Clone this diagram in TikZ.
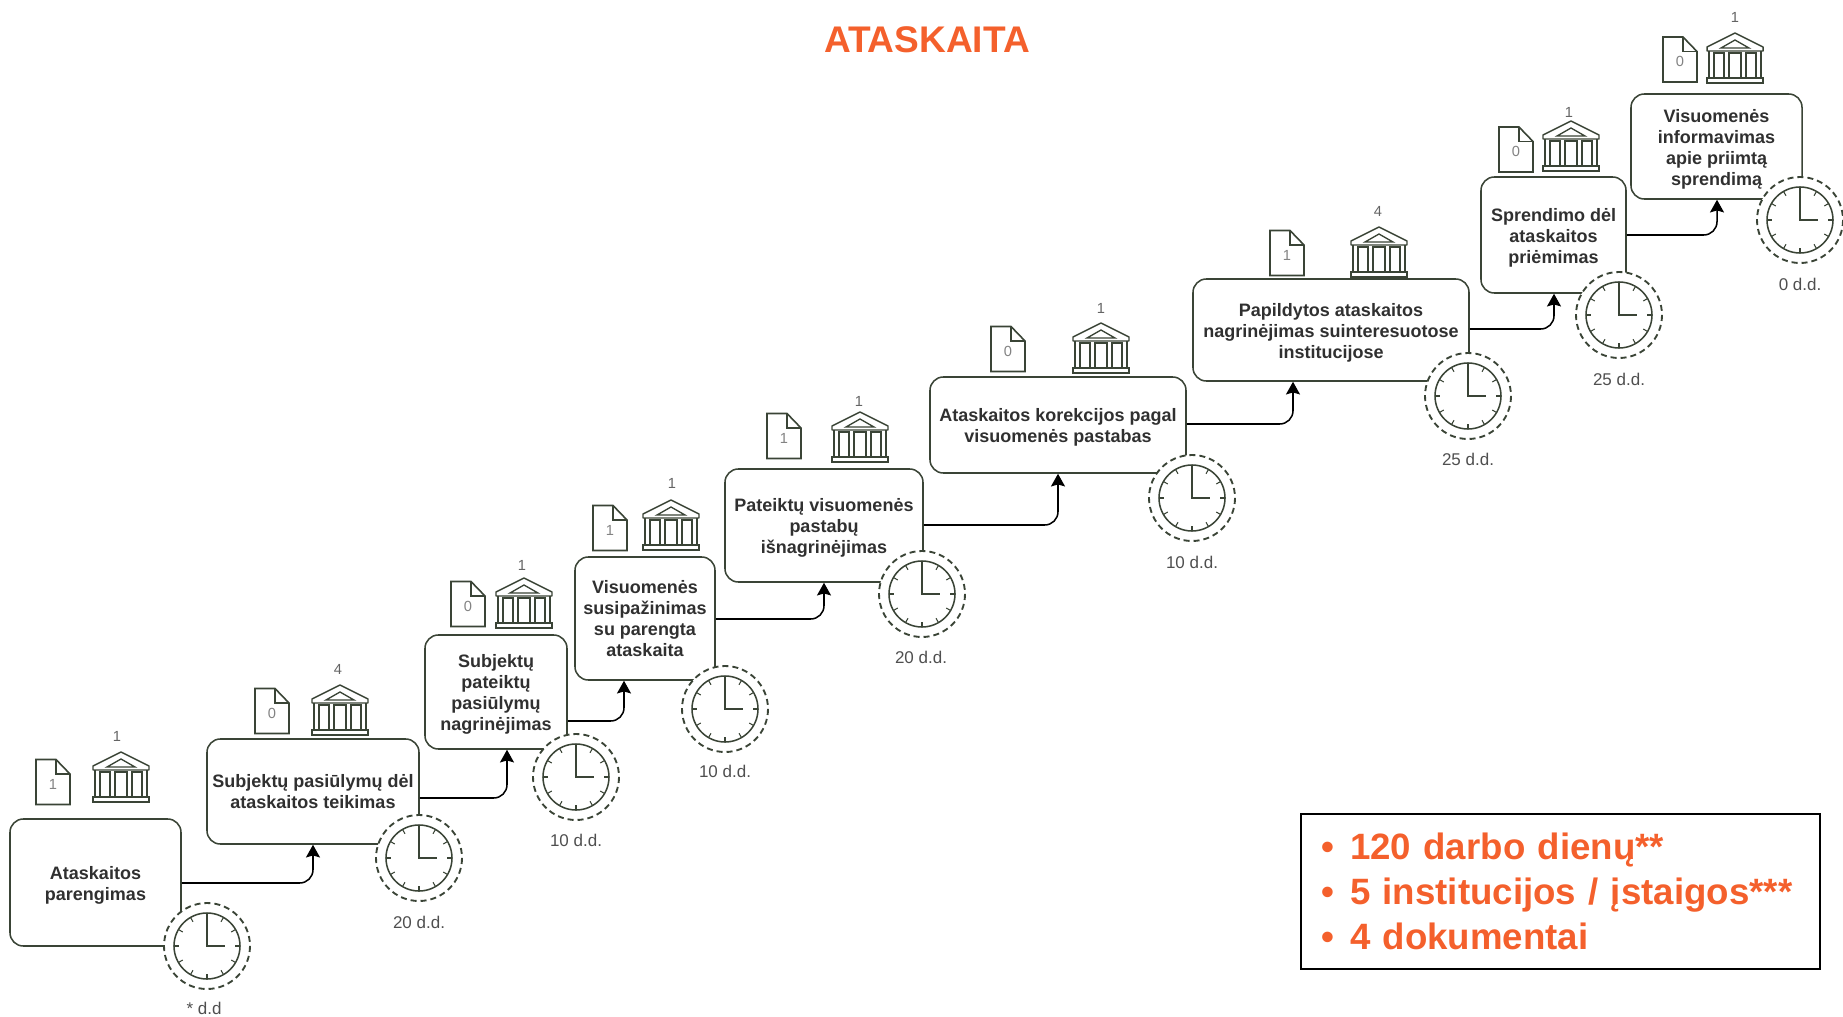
\documentclass[tikz,border=0pt]{standalone}
\usepackage{fontspec}
\setmainfont{Liberation Sans}
\usetikzlibrary{arrows.meta}
\definecolor{trait}{HTML}{3A4436}
\definecolor{encre}{HTML}{303030}
\definecolor{orange}{HTML}{F4602C}
\newcommand{\tiup}{\rule{0pt}{14pt}}

\begin{document}
\begin{tikzpicture}[x=0.75pt, y=-0.75pt]
\tikzset{tibox/.style 2 args={draw=trait, line width=1.15pt, rounded corners=10pt, inner sep=0pt, align=center, text=encre, font=\fontsize{13.5}{15.75}\selectfont\bfseries, minimum width=#1*0.75pt, minimum height=#2*0.75pt}}
\tikzset{tilabel/.style={inner sep=0pt, text=encre!85, font=\fontsize{12.75}{15}\selectfont}}
\tikzset{tinum/.style={inner sep=0pt, text=encre!75, font=\fontsize{11}{13}\selectfont}}
\tikzset{flow/.style={draw=black, line width=1.15pt, rounded corners=10pt, -{Stealth[length=9.5pt, width=10.5pt, inset=1.5pt]}}}
\tikzset{tidoc/.pic={
  \draw[trait, line width=1.2pt, fill=white] (-17,-22.5) -- (3,-22.5) -- (17,-8) -- (17,22.5) -- (-17,22.5) -- cycle;
  \draw[trait, line width=1.2pt] (3,-22.5) -- (3,-8) -- (17,-8);
  \node[tinum, text=encre!60] (-num) at (0,2) {#1};
}}
\tikzset{tiinst/.pic={
  \draw[trait, line width=1.1pt, line join=round] (-28,-7) -- (-28,-11) -- (0,-25) -- (28,-11) -- (28,-7) -- cycle;
  \draw[trait, line width=1pt] (-14,-10) -- (0,-18) -- (14,-10) -- cycle;
  \draw[trait, line width=1.1pt] (-26,-7) -- (-26,20);
  \draw[trait, line width=1.1pt] (26,-7) -- (26,20);
  \draw[trait, line width=1.1pt] (-28,20) rectangle (28,25);
  \draw[trait, line width=0.9pt] (-21,-5) rectangle (-11,20);
  \draw[trait, line width=0.9pt] (-6,-5) rectangle (6,20);
  \draw[trait, line width=0.9pt] (11,-5) rectangle (21,20);
}}
\tikzset{ticlock/.pic={
  \draw[trait, line width=1.4pt, dash pattern=on 4.5pt off 3pt, fill=white] (0,0) circle (43);
  \draw[trait, line width=1.15pt] (0,0) circle (33);
  \foreach \a in {0,30,...,330} \draw[trait, line width=0.8pt] (\a:33) -- (\a:28);
  \draw[trait, line width=1.25pt] (0,-29) -- (0,0) -- (18,0);
}}
\useasboundingbox (0,0) rectangle (1843,1017);
\node[inner sep=0pt, text=orange, font=\fontsize{27.8}{30}\selectfont\bfseries] (title) at (927,40) {ATASKAITA};

\node[tibox={171}{127}] (B1) at (95.5,882.5) {\tiup Ataskaitos\\parengimas};
\node[tibox={212}{105}] (B2) at (313,791.5) {Subjektų pasiūlymų dėl\\ataskaitos teikimas};
\node[tibox={142}{114}] (B3) at (496,692) {\tiup Subjektų\\pateiktų\\pasiūlymų\\nagrinėjimas};
\node[tibox={140}{123}] (B4) at (645,618.5) {Visuomenės\\susipažinimas\\su parengta\\ataskaita};
\node[tibox={198}{113}] (B5) at (824,525.5) {\tiup Pateiktų visuomenės\\pastabų\\išnagrinėjimas};
\node[tibox={256}{96}] (B6) at (1058,425) {\tiup Ataskaitos korekcijos pagal\\visuomenės pastabas};
\node[tibox={276}{102}] (B7) at (1331,330) {\tiup Papildytos ataskaitos\\nagrinėjimas suinteresuotose\\institucijose};
\node[tibox={145}{116}] (B8) at (1553.5,235) {\tiup Sprendimo dėl\\ataskaitos\\priėmimas};
\node[tibox={171}{105}] (B9) at (1716.5,146.5) {\tiup Visuomenės\\informavimas\\apie priimtą\\sprendimą};

\draw[flow] (B1.east |- 0,883) -| (B2.south);
\draw[flow] (B2.east |- 0,798) -| (B3.south -| 507,0);
\draw[flow] (B3.east |- 0,721) -| (B4.south -| 624,0);
\draw[flow] (B4.east |- 0,619) -| (B5.south -| 824,0);
\draw[flow] (B5.east |- 0,525) -| (B6.south);
\draw[flow] (B6.east |- 0,424) -| (B7.south -| 1293,0);
\draw[flow] (B7.east |- 0,329) -| (B8.south -| 1554,0);
\draw[flow] (B8.east |- 0,235) -| (B9.south -| 1717,0);

\pic (D1) at (53,782) {tidoc=1};
\pic (D2) at (272,711) {tidoc=0};
\pic (D3) at (468,604) {tidoc=0};
\pic (D4) at (610,528) {tidoc=1};
\pic (D5) at (784,436) {tidoc=1};
\pic (D6) at (1008,349) {tidoc=0};
\pic (D7) at (1287,253) {tidoc=1};
\pic (D8) at (1516,149.5) {tidoc=0};
\pic (D9) at (1680,59.5) {tidoc=0};

\pic (I1) at (121,777) {tiinst};
\pic (I2) at (340,710) {tiinst};
\pic (I3) at (524,603) {tiinst};
\pic (I4) at (671,525) {tiinst};
\pic (I5) at (860,437) {tiinst};
\pic (I6) at (1101,348) {tiinst};
\pic (I7) at (1379,252) {tiinst};
\pic (I8) at (1571,146) {tiinst};
\pic (I9) at (1735,58) {tiinst};

\node[tinum] (N1) at (117,736) {1};
\node[tinum] (N2) at (338,669) {4};
\node[tinum] (N3) at (522,565) {1};
\node[tinum] (N4) at (672,483) {1};
\node[tinum] (N5) at (859,401) {1};
\node[tinum] (N6) at (1101,308) {1};
\node[tinum] (N7) at (1378,211) {4};
\node[tinum] (N8) at (1569,112) {1};
\node[tinum] (N9) at (1735,17) {1};

\pic (C1) at (207,946) {ticlock};
\pic (C2) at (419,858) {ticlock};
\pic (C3) at (576,777) {ticlock};
\pic (C4) at (725,709) {ticlock};
\pic (C5) at (922,594) {ticlock};
\pic (C6) at (1192,498) {ticlock};
\pic (C7) at (1468,396) {ticlock};
\pic (C8) at (1619,315) {ticlock};
\pic (C9) at (1800,220) {ticlock};

\node[tilabel] (L1) at (204,1008) {* d.d};
\node[tilabel] (L2) at (419,922) {20 d.d.};
\node[tilabel] (L3) at (576,840) {10 d.d.};
\node[tilabel] (L4) at (725,771) {10 d.d.};
\node[tilabel] (L5) at (921,657) {20 d.d.};
\node[tilabel] (L6) at (1192,562) {10 d.d.};
\node[tilabel] (L7) at (1468,459) {25 d.d.};
\node[tilabel] (L8) at (1619,379) {25 d.d.};
\node[tilabel] (L9) at (1800,284) {0 d.d.};

\node[draw=black, line width=1.5pt, inner xsep=15pt, inner ysep=0pt, text width=359pt, minimum height=116.5pt, align=left, text=orange, font=\fontsize{27.5}{33.75}\selectfont\bfseries] (summary) at (1560.5,891.5)
  {\makebox[21.75pt][l]{•}120 darbo dienų**\\\makebox[21.75pt][l]{•}5 institucijos / įstaigos***\\\makebox[21.75pt][l]{•}4 dokumentai};
\end{tikzpicture}
\end{document}
